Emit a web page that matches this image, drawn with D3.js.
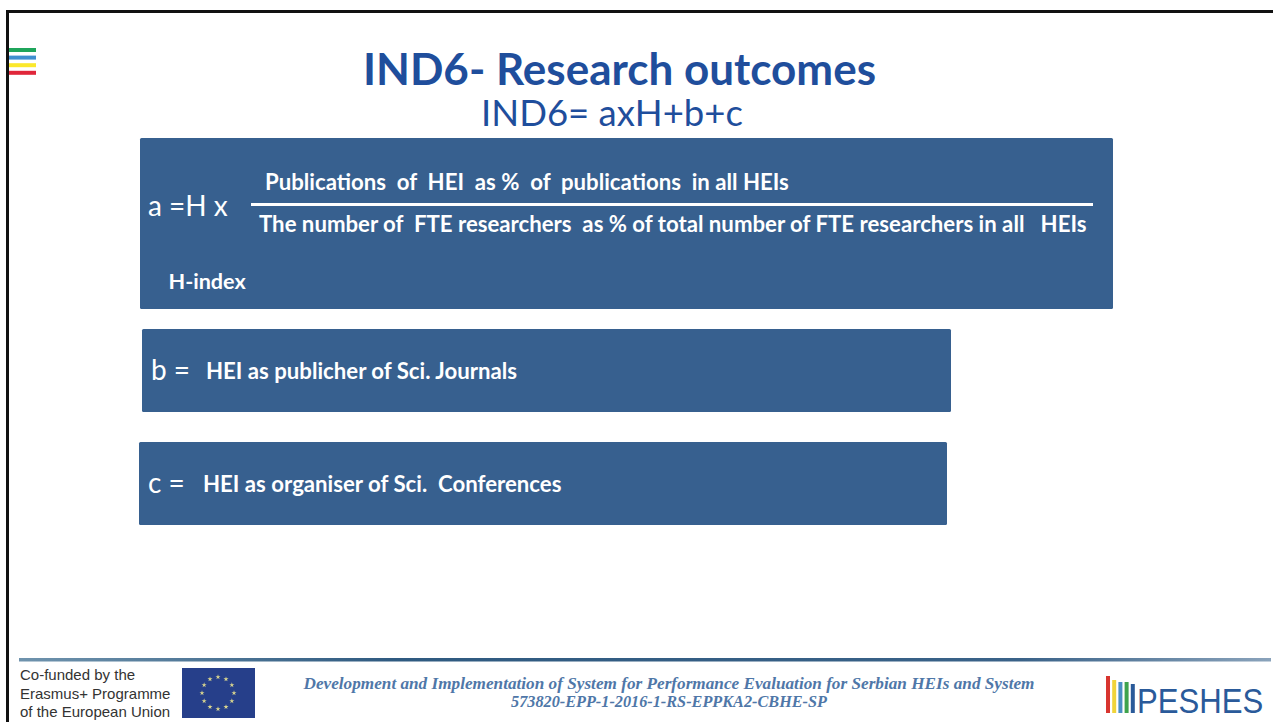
<!DOCTYPE html>
<html>
<head>
<meta charset="utf-8">
<script src="https://cdn.jsdelivr.net/npm/d3@7"></script>
<style>
  html, body { margin: 0; padding: 0; background: #fff; overflow: hidden; }
  svg { display: block; }
  text { white-space: pre; }
  .box { font-family: Lato, "Open Sans", sans-serif; fill: #fff; }
  .bold { font-weight: 700; font-size: 22.2px; }
  .big { font-weight: 400; font-size: 28px; }
</style>
</head>
<body>
<div id="slide"></div>
<script>
// slide text
var title = "IND6- Research outcomes";
var subtitle = "IND6= axH+b+c";
var numerator = "Publications  of  HEI  as %  of  publications  in all HEIs";
var denominator = "The number of  FTE researchers  as % of total number of FTE researchers in all   HEIs";
var hIndex = "H-index";
var boxLabels = ["a =H x", "b =", "c ="];
var boxTexts = ["", "HEI as publicher of Sci. Journals", "HEI as organiser of Sci.  Conferences"];
var fundedLines = ["Co-funded by the", "Erasmus+ Programme", "of the European Union"];
var projectLines = ["Development and Implementation of System for Performance Evaluation for Serbian HEIs and System",
  "573820-EPP-1-2016-1-RS-EPPKA2-CBHE-SP"];
var logoText = "PESHES";
var menuColors = ["#1fa55b", "#3f8fd0", "#fbe82c", "#e0263a"];
var logoColors = ["#d8352f", "#f0d43a", "#4a8fc4", "#3fa34d", "#2a5a9a"];
var logoHeights = [37, 33, 31, 31, 29];
var starCount = d3.range(12);

var width = 1273;
var height = 722;
var blue = "#37608f";

var svg = d3.select("#slide")
  .append("svg")
  .attr("width", width)
  .attr("height", height);

// black frame at top and left
svg.append("rect").attr("x", 6).attr("y", 10).attr("width", width).attr("height", 3).attr("fill", "#111");
svg.append("rect").attr("x", 6).attr("y", 10).attr("width", 3).attr("height", height).attr("fill", "#111");

// little menu icon
svg.selectAll(".menu")
  .data(menuColors)
  .enter()
  .append("rect")
  .attr("x", 9)
  .attr("y", (d, i) => 48 + i * 7.6)
  .attr("width", 27)
  .attr("height", 4)
  .attr("fill", d => d);

svg.append("text")
  .attr("x", 619.5).attr("y", 85)
  .attr("text-anchor", "middle")
  .style("font-family", "Lato, sans-serif")
  .style("font-weight", 700)
  .style("font-size", "44px")
  .attr("fill", "#1f4e9c")
  .text(title);

svg.append("text")
  .attr("x", 612).attr("y", 126)
  .attr("text-anchor", "middle")
  .style("font-family", "Lato, sans-serif")
  .style("font-size", "36.5px")
  .attr("fill", "#1f4e9c")
  .text(subtitle);

// the three blue boxes
var boxX = [140, 142, 139];
var boxY = [138, 329, 442];
var boxW = [973, 809, 808];
var boxH = [171, 83, 83];
var labelX = [148, 151, 148];
var labelY = [216, 380, 493];
var textX = [0, 206, 203];
var textY = [0, 379, 492];

svg.selectAll(".panel")
  .data(boxLabels)
  .enter()
  .append("rect")
  .attr("class", "panel")
  .attr("x", (d, i) => boxX[i])
  .attr("y", (d, i) => boxY[i])
  .attr("width", (d, i) => boxW[i])
  .attr("height", (d, i) => boxH[i])
  .attr("rx", 1.5)
  .attr("fill", blue);

svg.selectAll(".label")
  .data(boxLabels)
  .enter()
  .append("text")
  .attr("class", "box big")
  .attr("x", (d, i) => labelX[i])
  .attr("y", (d, i) => labelY[i])
  .text(d => d);

svg.selectAll(".boxtext")
  .data(boxTexts)
  .enter()
  .append("text")
  .attr("class", "box bold")
  .attr("x", (d, i) => textX[i])
  .attr("y", (d, i) => textY[i])
  .text(d => d);

svg.append("text").attr("class", "box bold").attr("x", 265).attr("y", 190).text(numerator);
svg.append("rect").attr("x", 251).attr("y", 203).attr("width", 842).attr("height", 3).attr("fill", "#fff");
svg.append("text").attr("class", "box bold").attr("x", 259).attr("y", 232).text(denominator);
svg.append("text").attr("class", "box bold").attr("x", 168.5).attr("y", 289).style("font-size", "21.6px").text(hIndex);

// footer rule fades out to the right
var grad = svg.append("defs").append("linearGradient").attr("id", "rule");
grad.append("stop").attr("offset", "0%").attr("stop-color", "#6f93ad");
grad.append("stop").attr("offset", "30%").attr("stop-color", "#2f5a80");
grad.append("stop").attr("offset", "80%").attr("stop-color", "#3a6288");
grad.append("stop").attr("offset", "100%").attr("stop-color", "#8aa3bb");
svg.append("rect").attr("x", 19).attr("y", 658).attr("width", 1252).attr("height", 3.5).attr("fill", "url(#rule)");

svg.selectAll(".funded")
  .data(fundedLines)
  .enter()
  .append("text")
  .attr("x", 20)
  .attr("y", (d, i) => 680 + i * 18.5)
  .style("font-family", "'Liberation Sans', sans-serif")
  .style("font-size", "15px")
  .attr("fill", "#333")
  .text(d => d);

// EU flag
svg.append("rect").attr("x", 182).attr("y", 668).attr("width", 73).attr("height", 50).attr("fill", "#263f8a");
svg.selectAll(".star")
  .data(starCount)
  .enter()
  .append("path")
  .attr("d", d3.symbol(d3.symbolStar, 8))
  .attr("transform", d => {
    var a = d / 12 * 2 * Math.PI;
    return `translate(${218 + 16 * Math.sin(a)}, ${693 - 16 * Math.cos(a)})`;
  })
  .attr("fill", "#d8d48e");

svg.selectAll(".project")
  .data(projectLines)
  .enter()
  .append("text")
  .attr("x", 669)
  .attr("y", (d, i) => 689 + i * 18)
  .attr("text-anchor", "middle")
  .style("font-family", "'Liberation Serif', serif")
  .style("font-style", "italic")
  .style("font-weight", 700)
  .style("font-size", "16.5px")
  .attr("textLength", (d, i) => i == 0 ? 731 : 316)
  .attr("lengthAdjust", "spacingAndGlyphs")
  .attr("fill", "#4f77a8")
  .text(d => d);

// PESHES logo
svg.selectAll(".logobar")
  .data(logoColors)
  .enter()
  .append("rect")
  .attr("x", (d, i) => 1106 + i * 6.2)
  .attr("y", (d, i) => 713 - logoHeights[i])
  .attr("width", 4)
  .attr("height", (d, i) => logoHeights[i])
  .attr("fill", d => d);

// squeezed sideways so it stays inside the page
svg.append("text")
  .attr("transform", "translate(1137, 713) scale(0.865, 1)")
  .style("font-family", "'Liberation Sans', sans-serif")
  .style("font-size", "36px")
  .attr("fill", "#2a5a9a")
  .text(logoText);
</script>
</body>
</html>
